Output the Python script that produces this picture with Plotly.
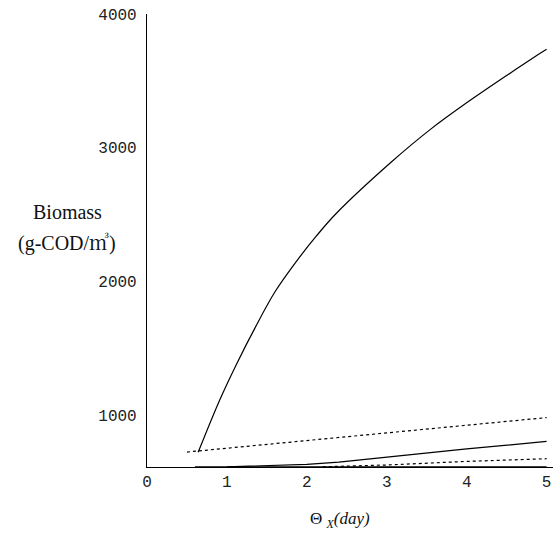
import plotly.graph_objects as go

# Data
top_x = [0.64, 0.91, 1.12, 1.35, 1.60, 1.87, 2.12, 2.37, 3.05, 3.55, 3.96, 4.51, 4.90, 5.0]
top_y = [720, 1112, 1380, 1650, 1920, 2150, 2340, 2510, 2890, 3140, 3320, 3545, 3700, 3738]

dash_hi_x = [0.5, 5.0]
dash_hi_y = [722, 980]

low_x = [1.0, 1.6, 2.0, 2.4, 3.0, 4.0, 5.0]
low_y = [611, 620, 630, 647, 685, 745, 802]

dash_lo_x = [2.2, 3.0, 4.0, 5.0]
dash_lo_y = [612, 625, 652, 672]

base_x = [0.6, 5.0]
base_y = [612, 612]

x_ticks = [0, 1, 2, 3, 4, 5]
y_ticks = [1000, 2000, 3000, 4000]

fig = go.Figure()
line_solid = dict(color="black", width=1.2)
line_dash = dict(color="black", width=1.2, dash="3px,3px")

fig.add_trace(go.Scatter(x=top_x, y=top_y, mode="lines", line=dict(color="black", width=1.2, shape="spline", smoothing=1.0)))
fig.add_trace(go.Scatter(x=dash_hi_x, y=dash_hi_y, mode="lines", line=line_dash))
fig.add_trace(go.Scatter(x=low_x, y=low_y, mode="lines", line=line_solid))
fig.add_trace(go.Scatter(x=dash_lo_x, y=dash_lo_y, mode="lines", line=line_dash))
fig.add_trace(go.Scatter(x=base_x, y=base_y, mode="lines", line=line_solid))

tickfont = dict(family="Liberation Mono, Courier New, monospace", size=16, color="#222")
serif = "Liberation Serif, Noto Serif CJK KR, Noto Sans CJK KR, serif"

fig.update_layout(
    width=557, height=550,
    margin=dict(l=147, r=4, t=14, b=83, autoexpand=False),
    plot_bgcolor="white", paper_bgcolor="white",
    showlegend=False,
    xaxis=dict(range=[0, 5.08], tickvals=x_ticks, ticks="", showgrid=False, zeroline=False,
               showline=True, linecolor="black", linewidth=1.2, tickfont=tickfont,
               ticklabelstandoff=0, automargin=False, ticklabeloverflow="allow"),
    yaxis=dict(range=[610, 4002], tickvals=y_ticks, ticks="", showgrid=False, zeroline=False,
               showline=True, linecolor="black", linewidth=1.2, tickfont=tickfont,
               ticklabelstandoff=6, automargin=False, ticklabeloverflow="allow"),
    annotations=[
        dict(text="Biomass", xref="paper", yref="paper", x=-0.197, y=0.563,
             xanchor="center", yanchor="middle", showarrow=False,
             font=dict(family=serif, size=20, color="#111")),
        dict(text="(g-COD/㎥)", xref="paper", yref="paper", x=-0.197, y=0.494,
             xanchor="center", yanchor="middle", showarrow=False,
             font=dict(family=serif, size=20, color="#111")),
        dict(text="Θ <sub><i>X</i></sub><i>(day)</i>", xref="paper", yref="paper", x=0.475, y=-0.117,
             xanchor="center", yanchor="middle", showarrow=False,
             font=dict(family="Liberation Serif, serif", size=17, color="#111")),
    ],
)

fig.write_html("out.html", config={"displayModeBar": False},
               post_script="document.body.style.margin='0';")
